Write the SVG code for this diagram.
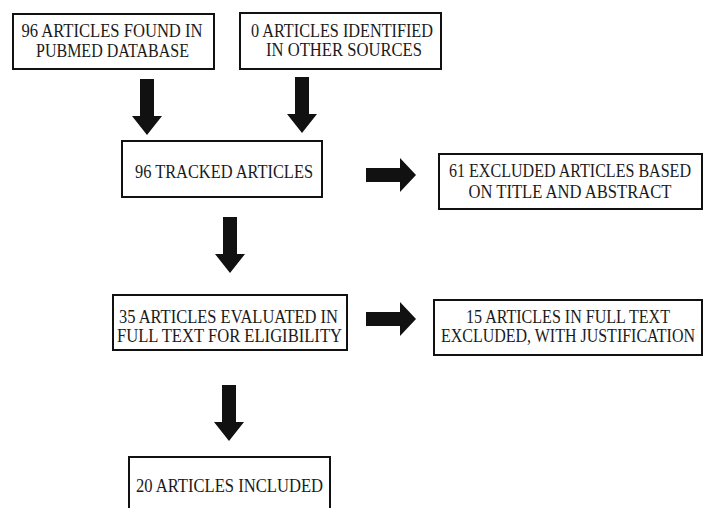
<svg xmlns="http://www.w3.org/2000/svg" xmlns:xlink="http://www.w3.org/1999/xlink" width="704" height="508" viewBox="0 0 704 508">
<style>
.box{fill:#fff;stroke:#111;stroke-width:2}
.t{font-family:'Liberation Serif','Times New Roman',serif;font-size:18px;fill:#1a1a1a;text-anchor:middle}
.arr{fill:#111}
</style>
<defs>
<path id="down" d="M-7,0 H7 V37 H15 L0,56 L-15,37 H-7 Z"/>
<path id="right" d="M0,-7 H34 V-17 L50,0 L34,17 V7 H0 Z"/>
</defs>
<rect width="704" height="508" fill="#fff"/>
<g id="connectors" class="arr">
<use xlink:href="#down" x="147" y="79"/>
<use xlink:href="#down" x="302" y="77"/>
<use xlink:href="#down" x="230" y="217"/>
<use xlink:href="#down" x="229" y="385"/>
<use xlink:href="#right" x="366" y="175"/>
<use xlink:href="#right" x="366" y="319"/>
</g>
<g id="pubmed">
<rect class="box" x="13" y="14" width="201" height="55"/>
<text class="t" x="112" y="37" textLength="181" lengthAdjust="spacingAndGlyphs">96 ARTICLES FOUND IN</text>
<text class="t" x="112.5" y="57" textLength="153" lengthAdjust="spacingAndGlyphs">PUBMED DATABASE</text>
</g>
<g id="other">
<rect class="box" x="240" y="13" width="201" height="56"/>
<text class="t" x="342" y="37" textLength="182" lengthAdjust="spacingAndGlyphs">0 ARTICLES IDENTIFIED</text>
<text class="t" x="344" y="56" textLength="156" lengthAdjust="spacingAndGlyphs">IN OTHER SOURCES</text>
</g>
<g id="tracked">
<rect class="box" x="122" y="141" width="200" height="56"/>
<text class="t" x="224" y="178" textLength="178" lengthAdjust="spacingAndGlyphs">96 TRACKED ARTICLES</text>
</g>
<g id="excluded1">
<rect class="box" x="439" y="154" width="263" height="55"/>
<text class="t" x="570" y="177" textLength="242" lengthAdjust="spacingAndGlyphs">61 EXCLUDED ARTICLES BASED</text>
<text class="t" x="570" y="198" textLength="203" lengthAdjust="spacingAndGlyphs">ON TITLE AND ABSTRACT</text>
</g>
<g id="evaluated">
<rect class="box" x="113" y="295" width="234" height="55"/>
<text class="t" x="228.5" y="323" textLength="219" lengthAdjust="spacingAndGlyphs">35 ARTICLES EVALUATED IN</text>
<text class="t" x="229.5" y="342" textLength="225" lengthAdjust="spacingAndGlyphs">FULL TEXT FOR ELIGIBILITY</text>
</g>
<g id="excluded2">
<rect class="box" x="434" y="300" width="268" height="55"/>
<text class="t" x="568" y="323" textLength="204" lengthAdjust="spacingAndGlyphs">15 ARTICLES IN FULL TEXT</text>
<text class="t" x="568" y="342" textLength="254" lengthAdjust="spacingAndGlyphs">EXCLUDED, WITH JUSTIFICATION</text>
</g>
<g id="included">
<rect class="box" x="129" y="457" width="201" height="60"/>
<text class="t" x="229.5" y="492" textLength="187" lengthAdjust="spacingAndGlyphs">20 ARTICLES INCLUDED</text>
</g>
</svg>
